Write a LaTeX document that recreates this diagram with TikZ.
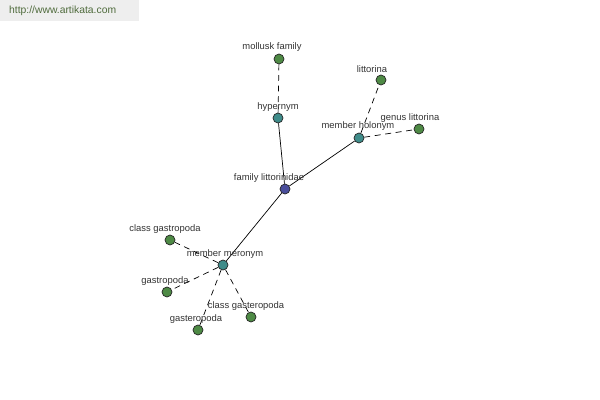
\documentclass[tikz,border=0pt]{standalone}
\usepackage{fontspec}
\setmainfont{Liberation Sans}
\usepackage{tikz}

\definecolor{leaf}{HTML}{4E8A45}
\definecolor{rel}{HTML}{3F8C8A}
\definecolor{root}{HTML}{4A4E9C}
\definecolor{webtxt}{HTML}{4F6B3C}
\definecolor{webbg}{HTML}{EEEEEE}

\tikzset{
  word/.style={circle, draw=black!85, line width=0.6pt, minimum size=10*0.85pt, inner sep=0pt},
  lbl/.style={font=\fontsize{8}{9}\selectfont, text=black!80, inner sep=1pt},
  link/.style={line width=0.6pt},
  dlink/.style={line width=0.6pt, dash pattern=on 5pt off 4pt}
}

\begin{document}
\begin{tikzpicture}[x=0.85pt, y=-0.85pt]
\useasboundingbox (0,0) rectangle (600,400);
\fill [webbg] (0,0) rectangle (139,21);
\node [font=\fontsize{8.8}{10}\selectfont, text=webtxt, anchor=west] (web) at (5,11) {http://www.artikata.com};

\node [word, fill=root] (fam) at (285,189) {};
\node [word, fill=rel] (hyp) at (278,118) {};
\node [word, fill=rel] (hol) at (359,138) {};
\node [word, fill=rel] (mer) at (223,265) {};
\node [word, fill=leaf] (mol) at (279,59) {};
\node [word, fill=leaf] (lit) at (381,80) {};
\node [word, fill=leaf] (gen) at (419,129) {};
\node [word, fill=leaf] (cgas) at (170,240) {};
\node [word, fill=leaf] (gas) at (167,292) {};
\node [word, fill=leaf] (cgast) at (251,317) {};
\node [word, fill=leaf] (gast) at (198,330) {};

% connectors
\draw [link] (fam) -- (hyp);
\draw [link] (fam) -- (hol);
\draw [link] (fam) -- (mer);
\draw [dlink] (hyp) -- (mol);
\draw [dlink] (hol) -- (lit);
\draw [dlink] (hol) -- (gen);
\draw [dlink] (mer) -- (cgas);
\draw [dlink] (mer) -- (gas);
\draw [dlink] (mer) -- (cgast);
\draw [dlink] (mer) -- (gast);

% labels
\node [lbl] (fam-l) at (269,178) {family littorinidae};
\node [lbl] (hyp-l) at (278,107) {hypernym};
\node [lbl] (hol-l) at (358,126) {member holonym};
\node [lbl] (mer-l) at (225,254) {member meronym};
\node [lbl] (mol-l) at (272,47) {mollusk family};
\node [lbl] (lit-l) at (372,69) {littorina};
\node [lbl] (gen-l) at (410,118) {genus littorina};
\node [lbl] (cgas-l) at (165,229) {class gastropoda};
\node [lbl] (gas-l) at (165,281) {gastropoda};
\node [lbl] (cgast-l) at (246,306) {class gasteropoda};
\node [lbl] (gast-l) at (196,319) {gasteropoda};
\end{tikzpicture}
\end{document}
